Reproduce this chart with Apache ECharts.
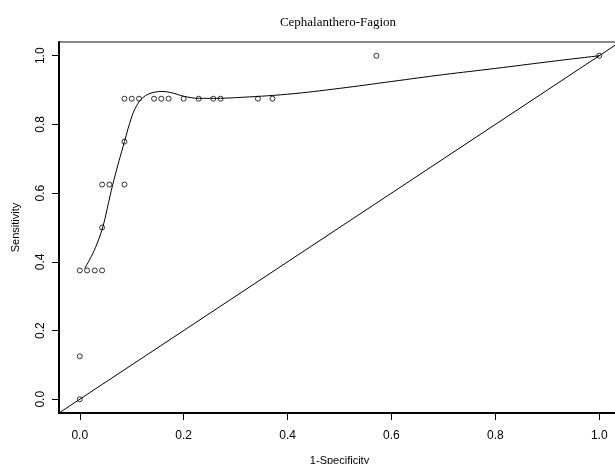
<!DOCTYPE html>
<html>
<head>
<meta charset="utf-8">
<script src="https://cdn.jsdelivr.net/npm/echarts@6/dist/echarts.min.js"></script>
<style>
    html, body { margin: 0; padding: 0; background: #fff; }
    #cn { width: 615px; height: 464px; }
</style>
</head>
<body>
<div id="cn"></div>
<script>
'use strict';

// observed ROC points (1-specificity, sensitivity)
const fpr = [0, 0, 0, 0.014, 0.029, 0.043, 0.043, 0.043, 0.057, 0.086, 0.086,
    0.086, 0.1, 0.114, 0.143, 0.157, 0.171, 0.2, 0.229, 0.257, 0.271, 0.343, 0.371, 0.571, 1.0];
const tpr = [0, 0.125, 0.375, 0.375, 0.375, 0.375, 0.5, 0.625, 0.625, 0.625, 0.75,
    0.875, 0.875, 0.875, 0.875, 0.875, 0.875, 0.875, 0.875, 0.875, 0.875, 0.875, 0.875, 1.0, 1.0];

// smoothed curve
const curveX = [0.0096, 0.022, 0.033, 0.045, 0.055, 0.066, 0.086, 0.1, 0.11, 0.12, 0.135, 0.158, 0.18,
    0.2, 0.23, 0.26, 0.3, 0.4, 0.5, 0.6, 0.7, 0.8, 0.9, 1.0];
const curveY = [0.381, 0.415, 0.452, 0.505, 0.57, 0.64, 0.75, 0.822, 0.856, 0.876, 0.89, 0.896, 0.891,
    0.882, 0.876, 0.876, 0.878, 0.888, 0.905, 0.925, 0.945, 0.963, 0.982, 1.0];

// reference diagonal y = x
const diagX = [-0.04, 1.04];
const diagY = [-0.04, 1.04];

const ticks = [0, 0.2, 0.4, 0.6, 0.8, 1.0];

const chart = echarts.init(document.getElementById('cn'), null, { renderer: 'canvas' });

const axisBase = {
    type: 'value',
    min: -0.04,
    max: 1.04,
    splitLine: { show: false },
    axisLine: { show: true, onZero: false, lineStyle: { color: '#000', width: 2 } },
    axisTick: { show: true, customValues: ticks, length: 7, lineStyle: { color: '#000', width: 1 } },
    nameTextStyle: { fontFamily: 'Liberation Sans', fontSize: 11, color: '#000' }
};

const option = {
    animation: false,
    backgroundColor: '#fff',
    title: {
        text: 'Cephalanthero-Fagion',
        left: 333,
        textAlign: 'center',
        top: 11,
        textStyle: { fontFamily: 'Liberation Serif', fontSize: 13, fontWeight: 'normal', color: '#000' }
    },
    grid: {
        left: 59,
        top: 42,
        width: 561,
        height: 371,
        outerBoundsMode: 'none',
        containLabel: false,
        show: true,
        borderColor: '#8a8a8a',
        borderWidth: 2
    },
    xAxis: Object.assign({}, axisBase, {
        name: '1-Specificity',
        nameLocation: 'middle',
        nameGap: 42,
        axisLabel: {
            customValues: ticks,
            margin: 17,
            fontFamily: 'Liberation Sans',
            fontSize: 12,
            color: '#000',
            formatter: v => v.toFixed(1)
        }
    }),
    yAxis: Object.assign({}, axisBase, {
        name: 'Sensitivity',
        nameLocation: 'middle',
        nameGap: 38,
        nameRotate: 90,
        axisLabel: {
            customValues: ticks,
            rotate: 90,
            margin: 12,
            fontFamily: 'Liberation Sans',
            fontSize: 12,
            color: '#000',
            formatter: v => v.toFixed(1)
        }
    }),
    series: [
        {
            type: 'line',
            data: diagX.map((x, i) => [x, diagY[i]]),
            showSymbol: false,
            symbol: 'none',
            lineStyle: { color: '#000', width: 1 },
            silent: true
        },
        {
            type: 'line',
            data: curveX.map((x, i) => [x, curveY[i]]),
            smooth: 0.4,
            showSymbol: false,
            symbol: 'none',
            lineStyle: { color: '#000', width: 1 },
            silent: true
        },
        {
            type: 'scatter',
            data: fpr.map((x, i) => [x, tpr[i]]),
            symbol: 'circle',
            symbolSize: 5,
            itemStyle: { color: 'rgba(0,0,0,0)', borderColor: '#000', borderWidth: 1 }
        }
    ]
};

chart.setOption(option);
</script>
</body>
</html>
